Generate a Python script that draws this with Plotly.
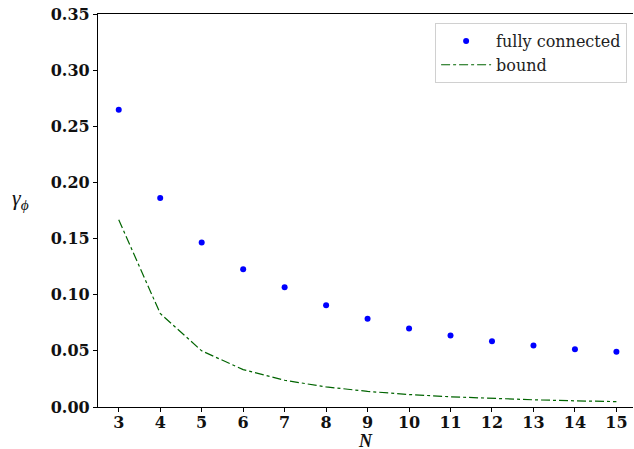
import plotly.graph_objects as go

N_values = [3, 4, 5, 6, 7, 8, 9, 10, 11, 12, 13, 14, 15]
fully_connected = [0.2647, 0.1862, 0.1466, 0.1226, 0.1066, 0.0906, 0.0786, 0.0700, 0.0636, 0.0586, 0.0548, 0.0515, 0.0492]
bound = [0.1667, 0.0833, 0.0500, 0.0333, 0.0238, 0.0179, 0.0139, 0.0111, 0.0091, 0.0076, 0.0064, 0.0055, 0.0048]
y_ticks = [0.00, 0.05, 0.10, 0.15, 0.20, 0.25, 0.30, 0.35]
y_tick_labels = ["0.00", "0.05", "0.10", "0.15", "0.20", "0.25", "0.30", "0.35"]

tick_font = dict(family="DejaVu Serif", size=16, color="#111111")
legend_font = dict(family="DejaVu Serif", size=16, color="#222222")

fig = go.Figure()
fig.add_trace(go.Scatter(
    x=N_values, y=fully_connected, mode="markers", name="fully connected",
    marker=dict(color="#0000ff", size=6, line=dict(width=0)),
))
fig.add_trace(go.Scatter(
    x=N_values, y=bound, mode="lines", name="bound",
    line=dict(color="#006400", width=1.2, dash="dashdot"),
))

fig.update_layout(
    width=634, height=449,
    font=legend_font,
    margin=dict(l=98, r=1, t=14, b=42, autoexpand=False),
    paper_bgcolor="white", plot_bgcolor="white",
    showlegend=True,
    legend=dict(
        x=0.989, y=0.977, xanchor="right", yanchor="top",
        bgcolor="rgba(255,255,255,0.8)", bordercolor="#d0d0d0", borderwidth=1,
        font=legend_font,
        itemwidth=50, tracegroupgap=0,
    ),
    xaxis=dict(
        range=[2.5, 15.4], tickmode="array", tickvals=N_values,
        ticktext=[f"<b>{n}</b>" for n in N_values],
        tickfont=tick_font, ticks="outside", ticklen=4, tickwidth=1, tickcolor="black",
        ticklabelstandoff=-3,
        showline=True, linecolor="black", linewidth=1.2, mirror=True,
        showgrid=False, zeroline=False, automargin=False,
    ),
    yaxis=dict(
        range=[0, 0.35], tickmode="array", tickvals=y_ticks,
        ticktext=[f"<b>{t}</b>" for t in y_tick_labels],
        tickfont=tick_font, ticks="outside", ticklen=4, tickwidth=1, tickcolor="black",
        showline=True, linecolor="black", linewidth=1.2,
        showgrid=False, zeroline=False, automargin=False,
    ),
    annotations=[
        dict(text="<b><i>N</i></b>", x=0.5, xref="paper", y=-0.086, yref="paper",
             xanchor="center", yanchor="middle", showarrow=False,
             font=dict(family="Liberation Serif", size=18, color="#111111")),
        dict(text="<i>γ<sub>ϕ</sub></i>", x=-0.145, xref="paper", y=0.53, yref="paper",
             xanchor="center", yanchor="middle", showarrow=False,
             font=dict(family="Liberation Serif", size=22, color="#111111")),
    ],
)

fig.write_html("out.html", config={"displayModeBar": False},
               post_script="document.body.style.margin='0';document.body.style.overflow='hidden';")
